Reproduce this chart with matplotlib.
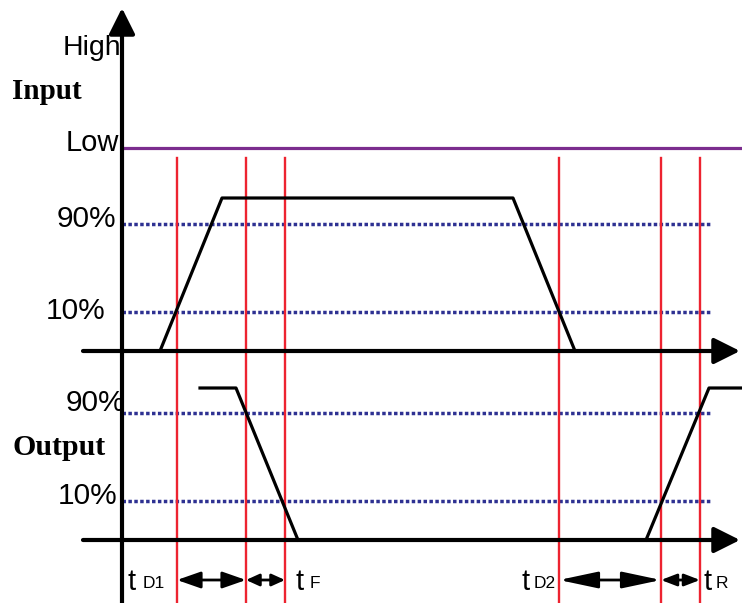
import numpy as np
from matplotlib import pyplot as plt

# diagram units = pixels of the reference, y grows downwards
x_axis_left = 83
x_axis_tip = 740
y_axis_x = 122
y_axis_tip = 8

input_base = 351
output_base = 540
low_level = 148

# threshold levels (90% / 10%)
input_levels = [224, 312]
output_levels = [413, 501]
level_labels = ['90%', '10%']
dotted_end = 711

# input and output waveforms
input_t = [160, 222, 513, 575]
input_y = [351, 198, 198, 351]
output_fall_t = [200, 236, 298]
output_fall_y = [388, 388, 540]
output_rise_t = [646, 709, 742]
output_rise_y = [540, 388, 388]

# timing marks (red lines)
marks = [177, 246, 285, 559, 661, 700]
mark_top = 158

# measured intervals at the bottom: (start, end, head length)
intervals = [(177, 246, 20), (246, 285, 11), (559, 661, 33), (661, 700, 13)]
arrow_y = 580

# timing labels: (x of "t", main, subscript)
timing_labels = [(128, 't', 'D1'), (295, 't', 'F'), (522, 't', 'D2'), (704, 't', 'R')]

red = '#ED2330'
blue = '#2E3192'
purple = '#7B2D8E'
sans = 'Liberation Sans'
serif = 'Liberation Serif'


def draw_arrow(ax, start, end, head_len, half_w, lw):
    ax.annotate('', xy=end, xytext=start,
                arrowprops=dict(arrowstyle='-|>,head_length=%.2f,head_width=%.2f' % (head_len / 10.0, half_w / 10.0),
                                mutation_scale=7.2, lw=lw, color='black',
                                shrinkA=0, shrinkB=0))


def draw_double(ax, x0, x1, y, head_len, half_w):
    ax.annotate('', xy=(x1, y), xytext=(x0, y),
                arrowprops=dict(arrowstyle='<|-|>,head_length=%.2f,head_width=%.2f' % (head_len / 10.0, half_w / 10.0),
                                mutation_scale=7.2, lw=2.0, color='black',
                                shrinkA=0, shrinkB=0))


fig = plt.figure(figsize=(7.42, 6.03), dpi=100)
ax = fig.add_axes([0, 0, 1, 1])
ax.set_xlim(0, 742)
ax.set_ylim(603, 0)
ax.axis('off')

# low level line
ax.plot([y_axis_x, 742], [low_level, low_level], color=purple, lw=2.3, solid_capstyle='butt')

# dotted threshold lines
for y in input_levels + output_levels:
    ax.plot([y_axis_x, dotted_end], [y, y], color=blue, lw=2.5,
            dashes=(1, 0.7), dash_capstyle='butt')

# red timing marks
for x in marks:
    ax.plot([x, x], [mark_top, 603], color=red, lw=1.7)

# waveforms
ax.plot(input_t, input_y, color='black', lw=2.3)
ax.plot(output_fall_t, output_fall_y, color='black', lw=2.3)
ax.plot(output_rise_t, output_rise_y, color='black', lw=2.3)

# axes with arrow heads
draw_arrow(ax, (y_axis_x, 603), (y_axis_x, y_axis_tip), 22, 11, 3.0)
draw_arrow(ax, (x_axis_left, input_base), (x_axis_tip, input_base), 22, 11, 3.0)
draw_arrow(ax, (x_axis_left, output_base), (x_axis_tip, output_base), 22, 11, 3.0)

# interval arrows
for x0, x1, hl in intervals:
    draw_double(ax, x0, x1, arrow_y, hl, 7 if hl > 15 else 5)

# texts
ax.text(121, 55, 'High', fontsize=20.5, family=sans, ha='right', va='baseline')
ax.text(119, 151, 'Low', fontsize=21, family=sans, ha='right', va='baseline')
ax.text(12, 99, 'Input', fontsize=21, family=serif, weight='bold', ha='left', va='baseline')
ax.text(12, 455, 'Output', fontsize=21.5, family=serif, weight='bold', ha='left', va='baseline')

for lab, y, x in zip(level_labels, [227, 319], [116, 106]):
    ax.text(x, y, lab, fontsize=21.5, family=sans, ha='right', va='baseline')
for lab, y, x in zip(level_labels, [411, 504], [125, 117]):
    ax.text(x, y, lab, fontsize=21.5, family=sans, ha='right', va='baseline')

for x, main, sub in timing_labels:
    ax.text(x, 590, main, fontsize=21, family=sans, ha='left', va='baseline')
    gap = 15 if sub in ('D1', 'F') else 12
    ax.text(x + gap, 588, sub, fontsize=12.5, family=sans, ha='left', va='baseline')

fig.savefig('out.png', dpi=100)
